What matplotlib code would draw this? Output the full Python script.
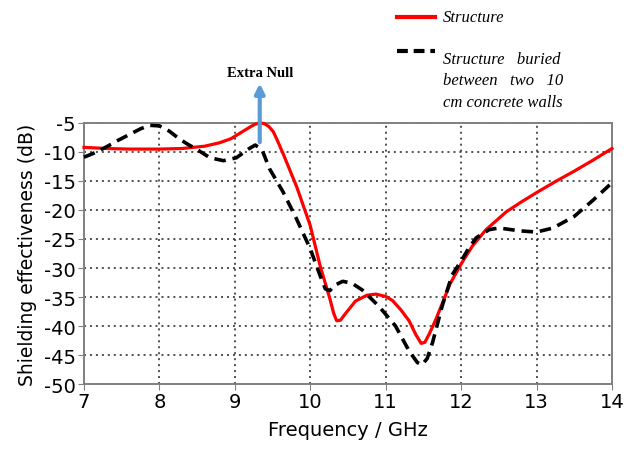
import matplotlib
matplotlib.use("Agg")
import matplotlib.pyplot as plt

plt.rcParams['axes.unicode_minus'] = False

# Structure (red, solid)
freq_red = [7.0, 7.3, 7.6, 8.0, 8.3, 8.6, 8.8, 8.95, 9.1, 9.2, 9.27, 9.33, 9.39, 9.45,
            9.51, 9.57, 9.64, 9.82, 10.0, 10.13, 10.26, 10.31, 10.35, 10.4, 10.47,
            10.6, 10.75, 10.87, 11.0, 11.09, 11.2, 11.31, 11.4, 11.47, 11.52, 11.58,
            11.67, 11.76, 11.85, 12.0, 12.15, 12.33, 12.6, 12.8, 13.0, 13.25, 13.5,
            13.75, 14.0]
se_red = [-9.2, -9.4, -9.5, -9.5, -9.4, -9.0, -8.4, -7.7, -6.5, -5.7, -5.2, -5.0, -5.1, -5.6,
          -6.5, -8.2, -10.3, -16.0, -22.7, -29.6, -35.3, -37.8, -39.1, -39.0, -37.8,
          -35.7, -34.7, -34.5, -34.9, -35.6, -37.2, -39.1, -41.5, -43.0, -42.8, -41.3,
          -38.7, -35.8, -32.8, -29.3, -26.2, -23.4, -20.3, -18.6, -17.0, -15.1, -13.3,
          -11.4, -9.4]

# Structure buried between two 10 cm concrete walls (black, dashed)
freq_blk = [7.0, 7.15, 7.3, 7.45, 7.6, 7.75, 7.87, 8.0, 8.13, 8.27, 8.38, 8.49, 8.67,
            8.85, 9.02, 9.18, 9.27, 9.36, 9.46, 9.64, 9.82, 10.0, 10.13, 10.2, 10.26,
            10.32, 10.43, 10.55, 10.69, 10.91, 11.13, 11.31, 11.42, 11.48, 11.55, 11.62,
            11.75, 11.88, 12.0, 12.1, 12.2, 12.37, 12.5, 12.78, 13.0, 13.22, 13.5,
            13.75, 14.0]
se_blk = [-10.9, -10.1, -9.1, -8.0, -7.0, -6.0, -5.4, -5.5, -6.4, -7.8, -8.7, -9.5, -11.0,
          -11.5, -11.0, -9.5, -8.8, -9.6, -12.9, -16.9, -21.6, -26.7, -31.3, -33.6, -33.9,
          -33.0, -32.3, -32.6, -33.8, -36.6, -40.0, -44.3, -46.3, -46.7, -45.6, -42.9,
          -36.5, -31.2, -28.8, -26.6, -24.8, -23.4, -23.1, -23.6, -23.8, -23.1, -21.1,
          -18.3, -15.3]

x_ticks = [7, 8, 9, 10, 11, 12, 13, 14]
y_ticks = [-5, -10, -15, -20, -25, -30, -35, -40, -45, -50]

fig = plt.figure(figsize=(6.33, 4.52), dpi=100)
ax = fig.add_axes([0.1327, 0.1482, 0.8341, 0.5775])

ax.plot(freq_red, se_red, color="#ff0000", lw=2.3, zorder=3, clip_on=False,
        solid_joinstyle="round")
ax.plot(freq_blk, se_blk, color="black", lw=2.6, dashes=(3.2, 1.9), zorder=4, clip_on=False,
        dash_joinstyle="round")

ax.set_xlim(7, 14)
ax.set_ylim(-50, -5)
ax.set_xticks(x_ticks)
ax.set_yticks(y_ticks)
ax.tick_params(labelsize=14, direction="out", length=4, color="#808080", pad=2)
ax.grid(True, color="#222222", linestyle=(0, (1.3, 2.6)), lw=1.1)
for s in ax.spines.values():
    s.set_color("#808080")
    s.set_linewidth(1.4)

ax.set_xlabel("Frequency / GHz", fontsize=14, labelpad=6)
ax.set_ylabel("Shielding effectiveness (dB)", fontsize=13.5, labelpad=5)

# extra null arrow
ax.annotate("", xy=(9.33, 2.3), xytext=(9.33, -8.8),
            arrowprops=dict(arrowstyle="-|>", color="#5b9bd5", lw=3, mutation_scale=14),
            annotation_clip=False, zorder=5)
ax.text(9.33, 2.6, "Extra Null", ha="center", va="bottom", fontsize=10.5,
        fontweight="bold", family="Liberation Serif")

# legend drawn outside the axes
fig.add_artist(plt.Line2D([397 / 633, 435 / 633], [1 - 18 / 452, 1 - 18 / 452],
                          color="#ff0000", lw=3))
fig.add_artist(plt.Line2D([397 / 633, 435 / 633], [1 - 52 / 452, 1 - 52 / 452],
                          color="black", lw=3, dashes=(2.6, 1.4)))
fig.text(443 / 633, 1 - 18 / 452, "Structure", fontsize=12, style="italic",
         family="Liberation Serif", va="center")
fig.text(443 / 633, 1 - 52 / 452, "Structure   buried\nbetween   two   10\ncm concrete walls",
         fontsize=12, style="italic", family="Liberation Serif", va="top",
         linespacing=1.45)

fig.savefig("out.png", dpi=100)
